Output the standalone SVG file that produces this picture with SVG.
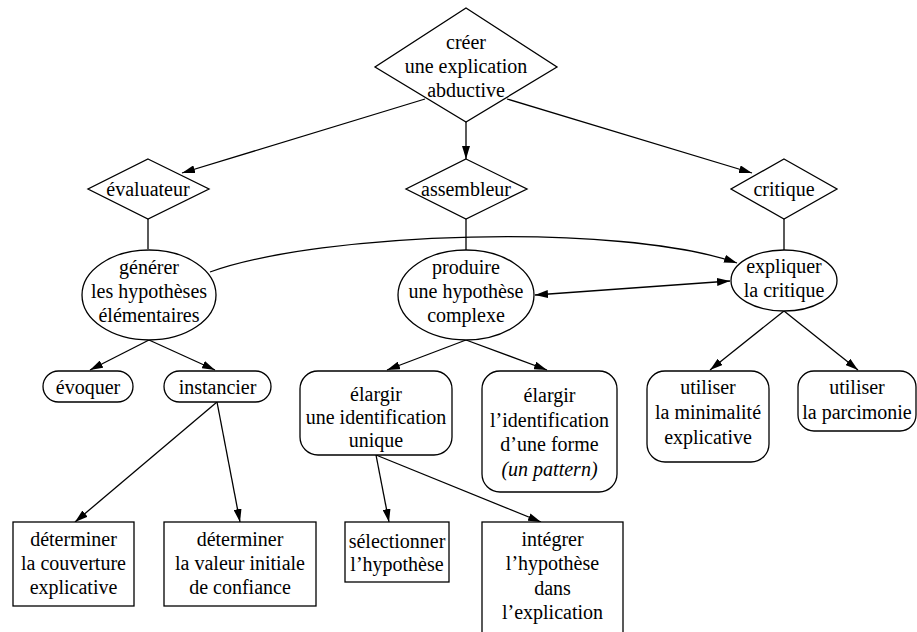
<svg xmlns="http://www.w3.org/2000/svg" width="917" height="632" viewBox="0 0 917 632">
  <style>
    .shape { fill: #ffffff; stroke: #000000; stroke-width: 1.3; }
    .edge { fill: none; stroke: #000000; stroke-width: 1.3; }
    .arrow { marker-end: url(#head); }
    text { font-family: "Liberation Serif", "Times New Roman", serif; font-size: 20px; fill: #000000; text-anchor: middle; }
    .it { font-style: italic; }
  </style>
  <defs>
    <marker id="head" markerWidth="13" markerHeight="8" refX="13" refY="4" orient="auto-start-reverse" markerUnits="userSpaceOnUse">
      <path d="M0,0 L13,4 L0,8 z" fill="#000000"/>
    </marker>
  </defs>
  <rect width="917" height="632" fill="#ffffff"/>

  <g id="connectors">
    <line class="edge arrow" x1="425" y1="99" x2="182" y2="173"/>
    <line class="edge arrow" x1="466" y1="122" x2="466" y2="159"/>
    <line class="edge arrow" x1="507" y1="99" x2="752" y2="173"/>
    <line class="edge" x1="148" y1="219" x2="148" y2="249"/>
    <line class="edge" x1="466" y1="219" x2="466" y2="250"/>
    <line class="edge" x1="784" y1="219" x2="784" y2="250"/>
    <path class="edge arrow" d="M210,272 C320,232 620,222 737,263"/>
    <line class="edge arrow" x1="535" y1="295" x2="730" y2="281" marker-start="url(#head)"/>
    <line class="edge arrow" x1="149" y1="340" x2="90" y2="370"/>
    <line class="edge arrow" x1="149" y1="340" x2="215" y2="370"/>
    <line class="edge arrow" x1="466" y1="340" x2="387" y2="370"/>
    <line class="edge arrow" x1="466" y1="340" x2="547" y2="370"/>
    <line class="edge arrow" x1="784" y1="311" x2="710" y2="370"/>
    <line class="edge arrow" x1="784" y1="311" x2="858" y2="370"/>
    <line class="edge arrow" x1="217" y1="402" x2="75" y2="522"/>
    <line class="edge arrow" x1="217" y1="402" x2="240" y2="522"/>
    <line class="edge arrow" x1="376" y1="455" x2="389" y2="522"/>
    <line class="edge arrow" x1="376" y1="455" x2="541" y2="522"/>
  </g>

  <g id="creer">
    <polygon class="shape" points="466,8 557,67 466,122 375,67"/>
    <text x="466" y="49">créer<tspan x="466" dy="24">une explication</tspan><tspan x="466" dy="24">abductive</tspan></text>
  </g>

  <g id="evaluateur">
    <polygon class="shape" points="148,159 209,189 148,219 88,189"/>
    <text x="148" y="196">évaluateur</text>
  </g>

  <g id="assembleur">
    <polygon class="shape" points="466,159 527,189 466,219 406,189"/>
    <text x="466" y="196">assembleur</text>
  </g>

  <g id="critique">
    <polygon class="shape" points="784,159 837,189 784,219 731,189"/>
    <text x="784" y="196">critique</text>
  </g>

  <g id="generer">
    <ellipse class="shape" cx="149" cy="295" rx="67" ry="45"/>
    <text x="149" y="274">générer<tspan x="149" dy="24">les hypothèses</tspan><tspan x="149" dy="24">élémentaires</tspan></text>
  </g>

  <g id="produire">
    <ellipse class="shape" cx="466" cy="295" rx="68" ry="45"/>
    <text x="466" y="274">produire<tspan x="466" dy="24">une hypothèse</tspan><tspan x="466" dy="24">complexe</tspan></text>
  </g>

  <g id="expliquer">
    <ellipse class="shape" cx="784" cy="280.5" rx="53" ry="30.5"/>
    <text x="784" y="273">expliquer<tspan x="784" dy="24">la critique</tspan></text>
  </g>

  <g id="evoquer">
    <rect class="shape" x="43" y="371" width="90" height="31" rx="15.5"/>
    <text x="88" y="394">évoquer</text>
  </g>

  <g id="instancier">
    <rect class="shape" x="164" y="371" width="107" height="31" rx="15.5"/>
    <text x="217.5" y="394">instancier</text>
  </g>

  <g id="elargir-unique">
    <rect class="shape" x="300" y="371" width="152" height="84" rx="18"/>
    <text x="376" y="401">élargir<tspan x="376" dy="23">une identification</tspan><tspan x="376" dy="23">unique</tspan></text>
  </g>

  <g id="elargir-forme">
    <rect class="shape" x="482" y="371" width="135" height="121" rx="18"/>
    <text x="549.5" y="402">élargir<tspan x="549.5" dy="24.5">l’identification</tspan><tspan x="549.5" dy="24.5">d’une forme</tspan><tspan x="549.5" dy="24.5" class="it">(un pattern)</tspan></text>
  </g>

  <g id="minimalite">
    <rect class="shape" x="647" y="371" width="122" height="91" rx="18"/>
    <text x="708" y="394">utiliser<tspan x="708" dy="25">la minimalité</tspan><tspan x="708" dy="25">explicative</tspan></text>
  </g>

  <g id="parcimonie">
    <rect class="shape" x="798" y="371" width="118" height="60" rx="16"/>
    <text x="857" y="394">utiliser<tspan x="857" dy="25">la parcimonie</tspan></text>
  </g>

  <g id="couverture">
    <rect class="shape" x="13" y="522" width="121" height="84"/>
    <text x="73.5" y="546">déterminer<tspan x="73.5" dy="24">la couverture</tspan><tspan x="73.5" dy="24">explicative</tspan></text>
  </g>

  <g id="confiance">
    <rect class="shape" x="164" y="522" width="152" height="84"/>
    <text x="240" y="546">déterminer<tspan x="240" dy="24">la valeur initiale</tspan><tspan x="240" dy="24">de confiance</tspan></text>
  </g>

  <g id="selectionner">
    <rect class="shape" x="345" y="522" width="104" height="60"/>
    <text x="397" y="548">sélectionner<tspan x="397" dy="23">l’hypothèse</tspan></text>
  </g>

  <g id="integrer">
    <!-- box runs past the lower edge of the canvas -->
    <rect class="shape" x="482" y="522" width="141" height="120"/>
    <text x="552.5" y="546">intégrer<tspan x="552.5" dy="24.3">l’hypothèse</tspan><tspan x="552.5" dy="24.3">dans</tspan><tspan x="552.5" dy="24.3">l’explication</tspan></text>
  </g>
</svg>
